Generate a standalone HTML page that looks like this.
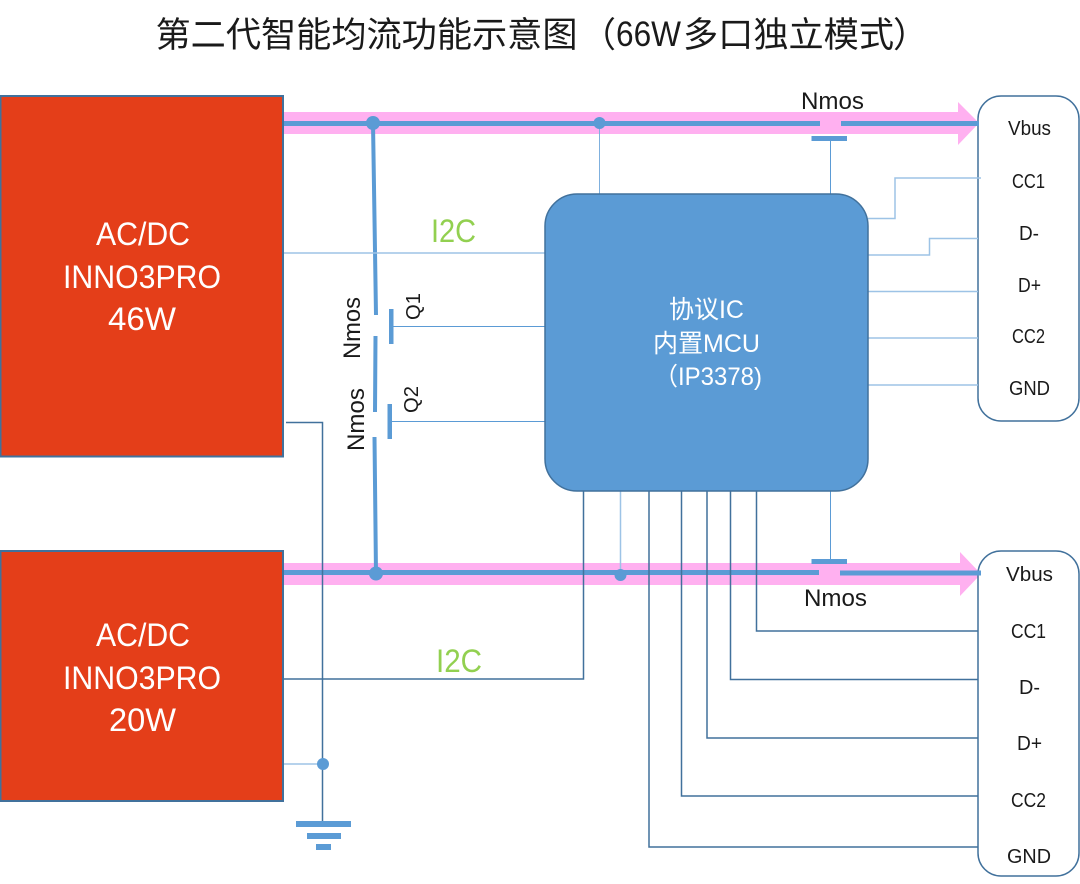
<!DOCTYPE html>
<html>
<head>
<meta charset="utf-8">
<style>
html,body{margin:0;padding:0;background:#fff;width:1080px;height:884px;overflow:hidden}
svg{display:block}
text{font-family:"Liberation Sans","Noto Sans CJK SC",sans-serif}
.t{fill:#1a1a1a;font-size:20px}
.w{fill:#fff;font-size:32px}
.m{fill:#fff;font-size:25px}
.g{fill:#92D050;font-size:32px}
.n{fill:#1a1a1a;font-size:24px}
.q{fill:#1a1a1a;font-size:20px}
.h{fill:#1a1a1a;font-size:35px}
</style>
</head>
<body>
<svg width="1080" height="884" viewBox="0 0 1080 884" xmlns="http://www.w3.org/2000/svg" fill="none">
<text class="h" x="155.500" y="47" textLength="422" lengthAdjust="spacingAndGlyphs">第二代智能均流功能示意图</text>
<text class="h" x="581" y="47">（</text>
<text class="h" x="616" y="46" textLength="65" lengthAdjust="spacingAndGlyphs">66W</text>
<text class="h" x="683" y="47" textLength="211" lengthAdjust="spacingAndGlyphs">多口独立模式</text>
<text class="h" x="893" y="47">）</text>

<!-- pink arrows -->
<polygon points="284,112 958,112 958,102 979,123 958,145 958,134 284,134" fill="#FFB0F0"/>
<polygon points="284,563 960,563 960,552 981,574 960,596 960,585 284,585" fill="#FFB0F0"/>

<!-- left boxes -->
<rect x="0.500" y="96" width="282.500" height="360.500" fill="#E43E19" stroke="#41719C" stroke-width="2"/>
<rect x="0.500" y="551" width="282.500" height="250" fill="#E43E19" stroke="#41719C" stroke-width="2"/>

<!-- right boxes -->
<rect x="978" y="96" width="101" height="325" rx="23" fill="#fff" stroke="#41719C" stroke-width="1.500"/>
<rect x="978" y="551" width="101" height="325" rx="23" fill="#fff" stroke="#41719C" stroke-width="1.500"/>

<!-- bus lines -->
<path d="M284 123.500H820M841 123.500H979" stroke="#5B9BD5" stroke-width="5"/>
<path d="M284 572.500H819M840 573H981" stroke="#5B9BD5" stroke-width="5"/>

<!-- Nmos gates right -->
<rect x="811.500" y="136" width="35.500" height="5" fill="#5B9BD5"/>
<rect x="811.500" y="559" width="35.500" height="5" fill="#5B9BD5"/>
<path d="M830.500 141V194M830.500 491V559" stroke="#5B9BD5" stroke-width="1"/>

<!-- switch -->
<path d="M373 123L376 315M375.500 336L375 412M374.500 437L376 574" stroke="#5B9BD5" stroke-width="4"/>
<rect x="389" y="309" width="4.500" height="35" fill="#5B9BD5"/>
<rect x="387.500" y="404" width="4.500" height="35" fill="#5B9BD5"/>
<path d="M393 326.500H545M392 421.500H545" stroke="#5B9BD5" stroke-width="1"/>

<!-- light lines -->
<g stroke="#9DC3E6" stroke-width="1.500">
<path d="M284 253H545"/>
<path d="M599.500 123V194" stroke="#7FB0DE" stroke-width="1"/>
<path d="M868 218.500H895V178H981"/>
<path d="M868 255H929.500V238.500H978"/>
<path d="M868 291.500H978"/>
<path d="M868 338H978"/>
<path d="M868 385H978"/>
<path d="M620.500 491V575"/>
<path d="M284 764H323"/>
</g>

<!-- dark lines -->
<g stroke="#41719C" stroke-width="1.500">
<path d="M284 679H583.500V491"/>
<path d="M286 422.500H322.500V821"/>
<path d="M649 491V847H978"/>
<path d="M681.500 491V796H978"/>
<path d="M707 491V738H978"/>
<path d="M730.500 491V679.500H978"/>
<path d="M756.500 491V631H978"/>
</g>

<!-- MCU -->
<rect x="545" y="194" width="323" height="297" rx="32" fill="#5B9BD5" stroke="#41719C" stroke-width="1.500"/>

<!-- junctions -->
<g fill="#5B9BD5">
<circle cx="373" cy="123" r="7"/>
<circle cx="599.500" cy="123" r="6"/>
<circle cx="376" cy="573.500" r="7"/>
<circle cx="620.500" cy="575" r="6"/>
<circle cx="323" cy="764" r="6"/>
<rect x="296" y="821" width="55" height="6"/>
<rect x="307" y="833" width="34" height="6"/>
<rect x="316" y="844" width="15" height="6"/>
</g>

<!-- left labels -->
<text class="w" x="96" y="245" textLength="94" lengthAdjust="spacingAndGlyphs">AC/DC</text>
<text class="w" x="63" y="288" textLength="158" lengthAdjust="spacingAndGlyphs">INNO3PRO</text>
<text class="w" x="108" y="330" textLength="68" lengthAdjust="spacingAndGlyphs">46W</text>
<text class="w" x="96" y="646" textLength="94" lengthAdjust="spacingAndGlyphs">AC/DC</text>
<text class="w" x="63" y="689" textLength="158" lengthAdjust="spacingAndGlyphs">INNO3PRO</text>
<text class="w" x="109" y="731" textLength="67" lengthAdjust="spacingAndGlyphs">20W</text>

<!-- I2C -->
<text class="g" x="431" y="242" textLength="45" lengthAdjust="spacingAndGlyphs">I2C</text>
<text class="g" x="436" y="672" textLength="46" lengthAdjust="spacingAndGlyphs">I2C</text>

<!-- MCU label -->
<text class="m" x="669" y="318" textLength="75" lengthAdjust="spacingAndGlyphs">协议IC</text>
<text class="m" x="653" y="352" textLength="107" lengthAdjust="spacingAndGlyphs">内置MCU</text>
<text class="m" x="654" y="385" textLength="108" lengthAdjust="spacingAndGlyphs">（IP3378)</text>

<!-- Nmos -->
<text class="n" x="801" y="109" textLength="63" lengthAdjust="spacingAndGlyphs">Nmos</text>
<text class="n" x="804" y="606" textLength="63" lengthAdjust="spacingAndGlyphs">Nmos</text>
<text class="n" transform="translate(360,359) rotate(-90)" textLength="62" lengthAdjust="spacingAndGlyphs">Nmos</text>
<text class="n" transform="translate(364,451) rotate(-90)" textLength="63" lengthAdjust="spacingAndGlyphs">Nmos</text>
<text class="q" transform="translate(420,320) rotate(-90)" textLength="27" lengthAdjust="spacingAndGlyphs">Q1</text>
<text class="q" transform="translate(418,413) rotate(-90)" textLength="27" lengthAdjust="spacingAndGlyphs">Q2</text>

<!-- right labels top -->
<text class="t" x="1008" y="135" textLength="43" lengthAdjust="spacingAndGlyphs">Vbus</text>
<text class="t" x="1012" y="188" textLength="33" lengthAdjust="spacingAndGlyphs">CC1</text>
<text class="t" x="1019" y="240" textLength="20" lengthAdjust="spacingAndGlyphs">D-</text>
<text class="t" x="1018" y="292" textLength="23" lengthAdjust="spacingAndGlyphs">D+</text>
<text class="t" x="1012" y="343" textLength="33" lengthAdjust="spacingAndGlyphs">CC2</text>
<text class="t" x="1009" y="395" textLength="41" lengthAdjust="spacingAndGlyphs">GND</text>

<!-- right labels bottom -->
<text class="t" x="1006" y="581" textLength="47" lengthAdjust="spacingAndGlyphs">Vbus</text>
<text class="t" x="1011" y="638" textLength="35" lengthAdjust="spacingAndGlyphs">CC1</text>
<text class="t" x="1019" y="694" textLength="21" lengthAdjust="spacingAndGlyphs">D-</text>
<text class="t" x="1017" y="750" textLength="25" lengthAdjust="spacingAndGlyphs">D+</text>
<text class="t" x="1011" y="807" textLength="35" lengthAdjust="spacingAndGlyphs">CC2</text>
<text class="t" x="1007" y="863" textLength="44" lengthAdjust="spacingAndGlyphs">GND</text>
</svg>
</body>
</html>
